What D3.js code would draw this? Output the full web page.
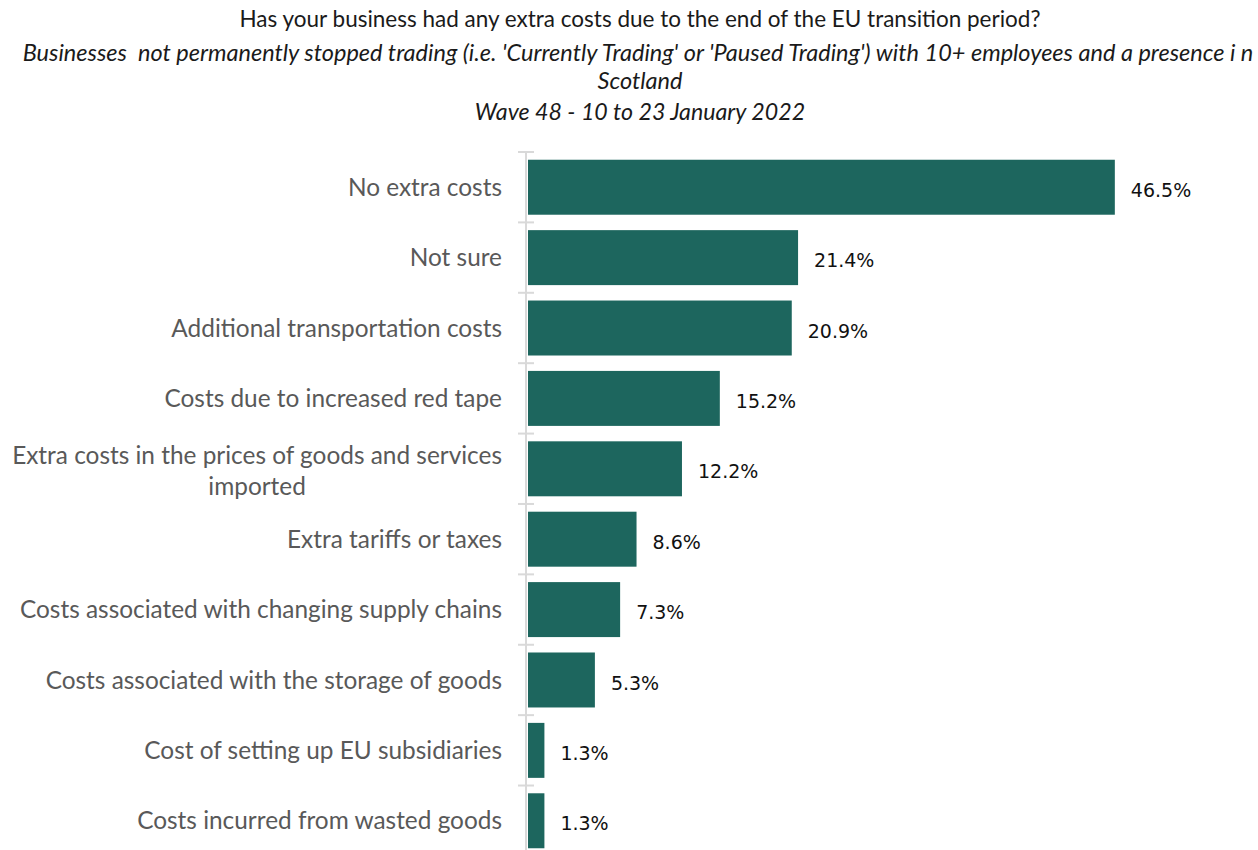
<!DOCTYPE html>
<html><head><meta charset="utf-8">
<script src="https://cdn.jsdelivr.net/npm/d3@7"></script>
<style>html,body{margin:0;padding:0;background:#fff;}svg{display:block;}</style>
</head><body>
<svg id="chart" width="1258" height="850"></svg>
<script>
const categories = [
  "No extra costs",
  "Not sure",
  "Additional transportation costs",
  "Costs due to increased red tape",
  "Extra costs in the prices of goods and services|imported",
  "Extra tariffs or taxes",
  "Costs associated with changing supply chains",
  "Costs associated with the storage of goods",
  "Cost of setting up EU subsidiaries",
  "Costs incurred from wasted goods"
];
const values = [46.5, 21.4, 20.9, 15.2, 12.2, 8.6, 7.3, 5.3, 1.3, 1.3];
const titleLines = [
  "Has your business had any extra costs due to the end of the EU transition period?",
  "Businesses  not permanently stopped trading (i.e. 'Currently Trading' or 'Paused Trading') with 10+ employees and a presence i n",
  "Scotland",
  "Wave 48 - 10 to 23 January 2022"
];

const svg = d3.select("#chart");
const font = "Lato, 'Open Sans', sans-serif";

// Title
const ty = [27, 61, 89, 120];
const tsize = [22.5, 23.5, 23.5, 23.2];
titleLines.forEach((t, i) => {
  svg.append("text")
    .attr("x", i === 1 ? 638 : 640)
    .attr("y", ty[i])
    .attr("text-anchor", "middle")
    .attr("font-family", font)
    .attr("font-size", tsize[i])
    .attr("font-style", i === 0 ? "normal" : "italic")
    .attr("fill", "#1a1a1a")
    .style("white-space", "pre")
    .text(t);
});

const y = d3.scaleBand().domain(categories).range([152, 856]).paddingInner(0.219).paddingOuter(0.11);
const x = d3.scaleLinear().domain([0, 50]).range([528, 1159]);

// bars
svg.selectAll("rect.bar").data(values).join("rect")
  .attr("class", "bar")
  .attr("x", x(0))
  .attr("y", (d, i) => y(categories[i]))
  .attr("width", d => x(d) - x(0))
  .attr("height", y.bandwidth())
  .attr("fill", "#1d665e");

// axis line + ticks
const step = y.step();
const axisG = svg.append("g");
axisG.append("line").attr("x1", 526).attr("x2", 526).attr("y1", 152).attr("y2", 856)
  .attr("stroke", "#d9d9d9").attr("stroke-width", 2);
const boundaries = d3.range(categories.length + 1).map(i => 152 + i * step);
axisG.selectAll("line.tick").data(boundaries).join("line")
  .attr("class", "tick")
  .attr("x1", 518).attr("x2", 534)
  .attr("y1", d => d).attr("y2", d => d)
  .attr("stroke", "#d9d9d9").attr("stroke-width", 2);

// category labels
const lsize = 24.4;
categories.forEach((c, i) => {
  const cy = y(c) + y.bandwidth() / 2;
  const lines = c.split("|");
  if (lines.length === 1) {
    svg.append("text")
      .attr("x", 502).attr("y", cy).attr("dy", "0.35em")
      .attr("text-anchor", "end")
      .attr("font-family", font).attr("font-size", lsize)
      .attr("fill", "#595959")
      .text(lines[0]);
  } else {
    const t0 = svg.append("text")
      .attr("font-family", font).attr("font-size", lsize)
      .attr("fill", "#595959").attr("text-anchor", "middle")
      .text(lines[0]);
    const w = t0.node().getComputedTextLength();
    const cx = 502 - w / 2;
    t0.attr("x", cx).attr("y", cy - 13.5).attr("dy", "0.35em");
    svg.append("text")
      .attr("x", cx).attr("y", cy + 17.5).attr("dy", "0.35em")
      .attr("font-family", font).attr("font-size", lsize)
      .attr("fill", "#595959").attr("text-anchor", "middle")
      .text(lines[1]);
  }
});

// value labels
svg.selectAll("text.val").data(values).join("text")
  .attr("class", "val")
  .attr("x", d => x(d) + 16)
  .attr("y", (d, i) => y(categories[i]) + y.bandwidth() / 2 + 3)
  .attr("dy", "0.35em")
  .attr("font-family", "'DejaVu Sans', sans-serif")
  .attr("font-size", 19)
  .attr("fill", "#111")
  .text(d => d.toFixed(1) + "%");
</script>
</body></html>
